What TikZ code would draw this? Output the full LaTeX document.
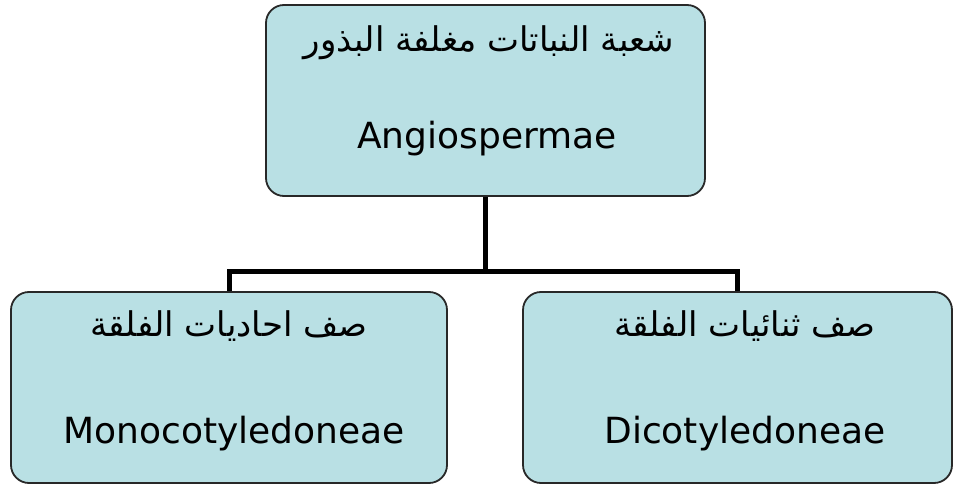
\documentclass[tikz,border=0pt]{standalone}
\usepackage{fontspec}
\setmainfont{DejaVu Sans}
\newfontfamily\arabicfont[Script=Arabic]{DejaVu Sans}
\TeXXeTstate=1
\definecolor{boxfill}{RGB}{185,224,228}
\definecolor{boxline}{RGB}{40,40,40}
\begin{document}
\begin{tikzpicture}
  [x=1pt,y=-1pt,
   box/.style={draw=boxline,line width=1.8pt,fill=boxfill,rounded corners=18pt,
     minimum height=191pt,inner sep=0pt},
   ar/.style={anchor=base,inner sep=0pt,font=\arabicfont\fontsize{34}{38}\selectfont},
   lat/.style={anchor=base,inner sep=0pt,font=\fontsize{36}{40}\selectfont},
   conn/.style={line width=5pt,black}]
  \useasboundingbox (0,0) rectangle (954,486);
  \node[box,minimum width=439pt] (top) at (485.5,100.5) {};
  \node[box,minimum width=436pt] (mono) at (229,387.5) {};
  \node[box,minimum width=429pt] (di) at (737.5,387.5) {};

  \node[ar] (topar) at (489,52) {\beginR شعبة النباتات مغلفة البذور\endR};
  \node[lat] (toplat) at (487,149) {Angiospermae};
  \node[ar] (monoar) at (229,337) {\beginR صف احاديات الفلقة\endR};
  \node[lat] (monolat) at (234,443) {Monocotyledoneae};
  \node[ar] (diar) at (745,337) {\beginR صف ثنائيات الفلقة\endR};
  \node[lat] (dilat) at (745,443) {Dicotyledoneae};

  \coordinate (fork) at (485.5,272);
  \draw[conn] (top.south) -- (fork);
  \foreach \to in {mono,di}
    \draw[conn] (fork) -| (\to.north);
\end{tikzpicture}
\end{document}
